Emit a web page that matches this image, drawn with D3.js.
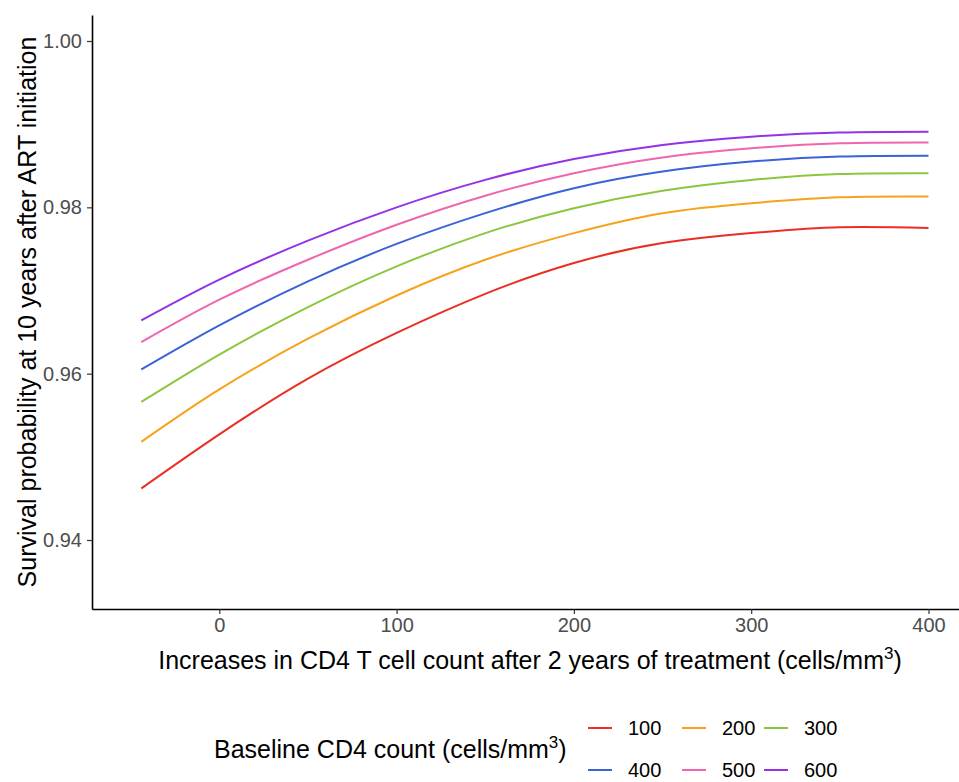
<!DOCTYPE html>
<html><head><meta charset="utf-8">
<script src="https://cdn.jsdelivr.net/npm/d3@7"></script>
<style>body{margin:0;background:#fff}svg{display:block}</style>
</head><body>
<svg id="c" width="959" height="782"></svg>
<script>
// Data
const xValues = [-44, 0, 50, 100, 150, 200, 250, 300, 350, 400];
const seriesNames = ["100", "200", "300", "400", "500", "600"];
const s100 = [0.9462, 0.9527, 0.9594, 0.9649, 0.9696, 0.9733, 0.9757, 0.9769, 0.9776, 0.9775];
const s200 = [0.9518, 0.9581, 0.9642, 0.9694, 0.9737, 0.9769, 0.9793, 0.9805, 0.9812, 0.9813];
const s300 = [0.9566, 0.9623, 0.9680, 0.9729, 0.9769, 0.9799, 0.9820, 0.9833, 0.9840, 0.9841];
const s400 = [0.9605, 0.9658, 0.9711, 0.9756, 0.9793, 0.9823, 0.9843, 0.9855, 0.9861, 0.9862];
const s500 = [0.9638, 0.9689, 0.9737, 0.9779, 0.9814, 0.9841, 0.9860, 0.9871, 0.9877, 0.9878];
const s600 = [0.9664, 0.9713, 0.9760, 0.9800, 0.9833, 0.9858, 0.9875, 0.9885, 0.9890, 0.9891];
const xTicks = [0, 100, 200, 300, 400];
const yTicks = [0.94, 0.96, 0.98, 1.00];
const colors = ["#ea2e24", "#f7a21b", "#8cc63e", "#3b62d6", "#f065b0", "#9332e6"];

const allSeries = [s100, s200, s300, s400, s500, s600];
const svg = d3.select("#c");
const font = "'Liberation Sans', Arial, sans-serif";

const x = d3.scaleLinear().domain([-71.8, 417.2]).range([92, 959]);
const y = d3.scaleLinear().domain([0.931704, 1.003126]).range([609, 15]);

// axes
const gx = svg.append("g").attr("transform", "translate(0,609)")
  .call(d3.axisBottom(x).tickValues(xTicks).tickSize(5).tickSizeOuter(0).tickPadding(4).tickFormat(d3.format("d")));
const gy = svg.append("g").attr("transform", "translate(92,0)")
  .call(d3.axisLeft(y).tickValues(yTicks).tickSize(5).tickSizeOuter(0).tickPadding(5).tickFormat(d3.format(".2f")));
[gx, gy].forEach(g => {
  g.select(".domain").attr("stroke", "#000").attr("stroke-width", 1.6);
  g.selectAll(".tick line").attr("stroke", "#333").attr("stroke-width", 1.2);
  g.selectAll(".tick text").attr("fill", "#4d4d4d").style("font-family", font).style("font-size", "20px");
});

// lines
const line = d3.line().x((d, i) => x(xValues[i])).y(d => y(d)).curve(d3.curveNatural);
allSeries.forEach((s, i) => {
  svg.append("path").datum(s).attr("d", line).attr("fill", "none")
    .attr("stroke", colors[i]).attr("stroke-width", 2);
});

// axis titles
const xt = svg.append("text").attr("x", 530).attr("y", 669).attr("text-anchor", "middle")
  .style("font-family", font).style("font-size", "25px").attr("fill", "#000");
xt.append("tspan").text("Increases in CD4 T cell count after 2 years of treatment (cells/mm");
xt.append("tspan").text("3").attr("dy", -10).style("font-size", "17px");
xt.append("tspan").text(")").attr("dy", 10);

svg.append("text").attr("transform", "translate(36,312) rotate(-90)").attr("text-anchor", "middle")
  .style("font-family", font).style("font-size", "25px").attr("fill", "#000")
  .text("Survival probability at 10 years after ART initiation");

// legend
const lt = svg.append("text").attr("x", 214).attr("y", 758)
  .style("font-family", font).style("font-size", "25px").attr("fill", "#000");
lt.append("tspan").text("Baseline CD4 count (cells/mm");
lt.append("tspan").text("3").attr("dy", -10).style("font-size", "17px");
lt.append("tspan").text(")").attr("dy", 10);

const colX = [588, 682, 764];
const rowY = [728, 770];
seriesNames.forEach((name, i) => {
  const cx = colX[i % 3], cy = rowY[Math.floor(i / 3)];
  svg.append("line").attr("x1", cx).attr("x2", cx + 24).attr("y1", cy).attr("y2", cy)
    .attr("stroke", colors[i]).attr("stroke-width", 2);
  svg.append("text").attr("x", cx + 40).attr("y", cy + 7)
    .style("font-family", font).style("font-size", "20px").attr("fill", "#000").text(name);
});
</script>
</body></html>
